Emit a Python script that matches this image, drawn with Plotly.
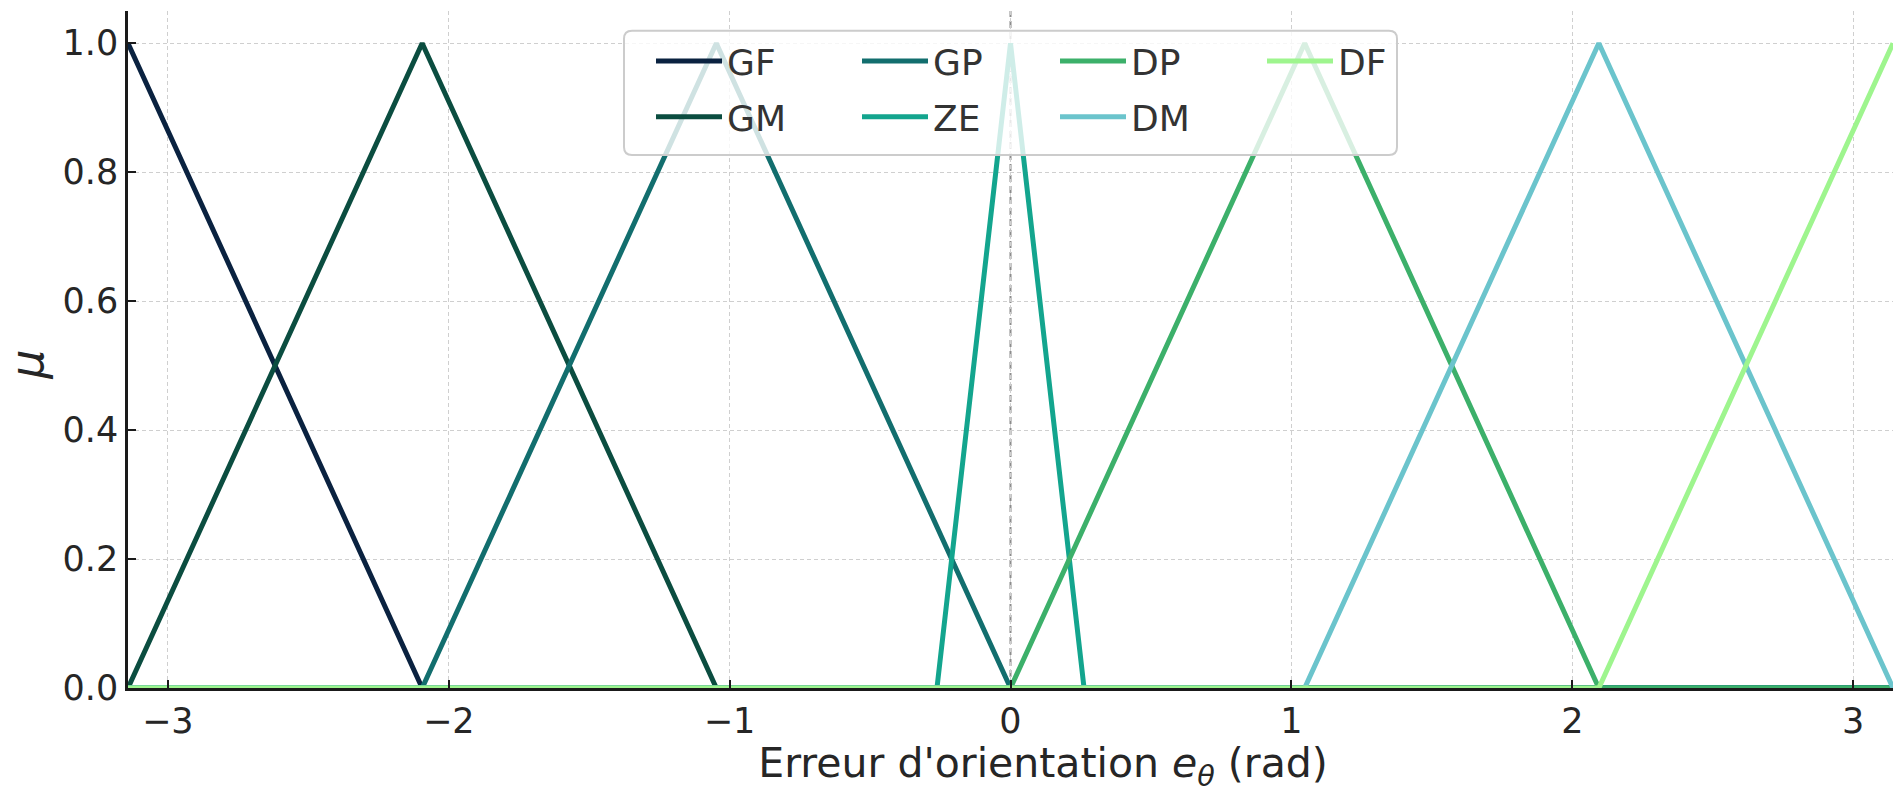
import plotly.graph_objects as go

# ---- data: breakpoints of each triangular membership function (rad, membership) ----
names = ["GF", "GM", "GP", "ZE", "DP", "DM", "DF"]

x_GF = [-3.1416, -2.0944, 3.1416]
mu_GF = [1.0, 0.0, 0.0]

x_GM = [-3.1416, -2.0944, -1.0472, 3.1416]
mu_GM = [0.0, 1.0, 0.0, 0.0]

x_GP = [-3.1416, -2.0944, -1.0472, 0.0, 3.1416]
mu_GP = [0.0, 0.0, 1.0, 0.0, 0.0]

x_ZE = [-3.1416, -0.2618, 0.0, 0.2618, 3.1416]
mu_ZE = [0.0, 0.0, 1.0, 0.0, 0.0]

x_DP = [-3.1416, 0.0, 1.0472, 2.0944, 3.1416]
mu_DP = [0.0, 0.0, 1.0, 0.0, 0.0]

x_DM = [-3.1416, 1.0472, 2.0944, 3.1416]
mu_DM = [0.0, 0.0, 1.0, 0.0]

x_DF = [-3.1416, 2.0944, 3.1416]
mu_DF = [0.0, 0.0, 1.0]

x_ticks = [-3, -2, -1, 0, 1, 2, 3]
y_ticks = [0.0, 0.2, 0.4, 0.6, 0.8, 1.0]

series_x = [x_GF, x_GM, x_GP, x_ZE, x_DP, x_DM, x_DF]
series_mu = [mu_GF, mu_GM, mu_GP, mu_ZE, mu_DP, mu_DM, mu_DF]

colors = ["#0a2240", "#0b4d40", "#126e6e", "#13a58e", "#3cb06a", "#6bc4cc", "#9ef58e"]
legend_of = ["legend", "legend", "legend2", "legend2", "legend3", "legend3", "legend4"]

FONT = "DejaVu Sans"
TXT = "#262626"
NB = "\u00a0"
ZW = "\u200b"

fig = go.Figure()
for name, xs, ys, c, lg in zip(names, series_x, series_mu, colors, legend_of):
    fig.add_trace(go.Scatter(
        x=xs, y=ys, mode="lines", name=name,
        line=dict(color=c, width=5),
        legend=lg, legendgroup=name, hoverinfo="skip",
    ))

# plot area in pixels: left 128, right 1893, top 11, bottom 688
PL, PR, PT, PB = 128, 1893, 11, 688
PW, PH = PR - PL, PB - PT

def px(xp):
    return (xp - PL) / PW

def py(yp):
    return (PB - yp) / PH

leg_common = dict(
    bgcolor="rgba(0,0,0,0)", borderwidth=0,
    font=dict(family=FONT, size=36, color="#333333"),
    itemwidth=66, traceorder="grouped", tracegroupgap=6,
    xanchor="left", yanchor="top", orientation="v", y=py(31),
)

# rounded legend frame
bx0, bx1, by0, by1 = px(624), px(1397), py(155), py(30.7)
rx, ry = 8 / PW, 8 / PH
frame = (f"M {bx0+rx},{by1} L {bx1-rx},{by1} Q {bx1},{by1} {bx1},{by1-ry} "
         f"L {bx1},{by0+ry} Q {bx1},{by0} {bx1-rx},{by0} "
         f"L {bx0+rx},{by0} Q {bx0},{by0} {bx0},{by0+ry} "
         f"L {bx0},{by1-ry} Q {bx0},{by1} {bx0+rx},{by1} Z")

x_title = ZW + NB * 5 + "Erreur d'orientation <i>e</i><sub><i>θ</i></sub> (rad)"
y_title = "<i>μ</i>" + NB * 2 + ZW

fig.update_layout(
    template="none",
    width=1893, height=793,
    margin=dict(l=PL, r=1893 - PR, t=PT, b=793 - PB, pad=0),
    paper_bgcolor="white", plot_bgcolor="white",
    font=dict(family=FONT, size=35, color=TXT),
    showlegend=True,
    legend=dict(leg_common, x=px(651)),
    legend2=dict(leg_common, x=px(857)),
    legend3=dict(leg_common, x=px(1055)),
    legend4=dict(leg_common, x=px(1262)),
    xaxis=dict(
        range=[-3.1416, 3.1416], tickvals=x_ticks,
        showline=True, linecolor="#1a1a1a", linewidth=2.6, mirror=False,
        ticks="inside", ticklen=8, tickwidth=1.6, tickcolor="#1a1a1a",
        showgrid=True, gridcolor="#cfcfcf", gridwidth=1.2, griddash="4px,3px",
        zeroline=False,
        tickfont=dict(family=FONT, size=35, color=TXT),
        title=dict(text=x_title, font=dict(family=FONT, size=41, color=TXT), standoff=21),
    ),
    yaxis=dict(
        range=[0, 1.05], tickvals=y_ticks, tickformat=".1f",
        showline=True, linecolor="#1a1a1a", linewidth=2.6, mirror=False,
        ticks="inside", ticklen=8, tickwidth=1.6, tickcolor="#1a1a1a",
        showgrid=True, gridcolor="#cfcfcf", gridwidth=1.2, griddash="4px,3px",
        zeroline=False,
        tickfont=dict(family=FONT, size=35, color=TXT),
        title=dict(text=y_title, font=dict(family=FONT, size=46, color=TXT), standoff=12),
    ),
    shapes=[
        dict(type="line", xref="x", yref="paper", x0=0, x1=0, y0=0, y1=1,
             line=dict(color="#8c8c8c", width=2, dash="7px,4px"), layer="below"),
        dict(type="path", xref="paper", yref="paper", path=frame,
             fillcolor="rgba(255,255,255,0.8)", line=dict(color="#cccccc", width=2),
             layer="above"),
    ],
)

fig.write_html("out.html")
